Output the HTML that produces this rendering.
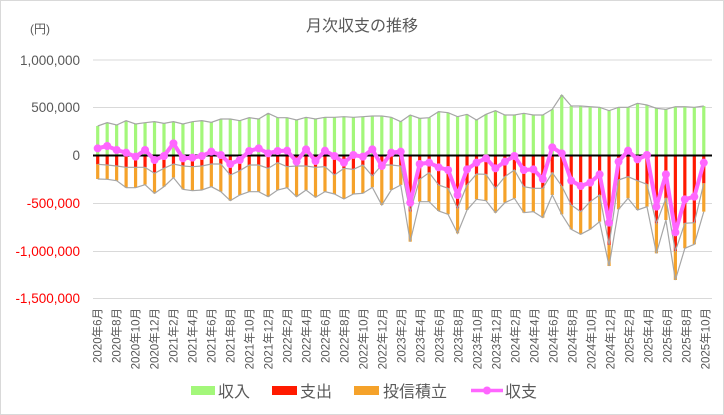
<!DOCTYPE html>
<html><head><meta charset="utf-8"><style>
html,body{margin:0;padding:0;background:#fff}
svg{display:block}
text{font-family:"Liberation Sans","Noto Sans CJK JP",sans-serif}
</style></head><body>
<svg id="c" width="724" height="415" xmlns="http://www.w3.org/2000/svg">
<rect x="0.5" y="0.5" width="723" height="414" fill="#fff" stroke="#d9d9d9"/>
<text x="362" y="31" font-size="16" fill="#595959" text-anchor="middle">月次収支の推移</text>
<text x="30" y="33" font-size="12" fill="#595959">(円)</text>
<g font-size="13.5" text-anchor="end">
<text x="80" y="65" fill="#595959">1,000,000</text>
<text x="80" y="112" fill="#595959">500,000</text>
<text x="80" y="160" fill="#595959">0</text>
<text x="80" y="208" fill="#ff0000">-500,000</text>
<text x="80" y="256" fill="#ff0000">-1,000,000</text>
<text x="80" y="303" fill="#ff0000">-1,500,000</text>
</g>
<g stroke="#d9d9d9" stroke-width="1">
<line x1="93" x2="712" y1="60" y2="60"/>
<line x1="93" x2="712" y1="107.5" y2="107.5"/>
<line x1="93" x2="712" y1="203.5" y2="203.5"/>
<line x1="93" x2="712" y1="251.5" y2="251.5"/>
<line x1="93" x2="712" y1="298.5" y2="298.5"/>
</g>
<g id="bars"></g>
<line x1="93" x2="712" y1="155.5" y2="155.5" stroke="#000" stroke-width="2"/>
<g id="net"></g>
<g font-size="11.5" fill="#595959" text-anchor="end">
<text transform="translate(101.5,308) rotate(-90)">2020年6月</text>
<text transform="translate(120.5,308) rotate(-90)">2020年8月</text>
<text transform="translate(139.5,308) rotate(-90)">2020年10月</text>
<text transform="translate(158.5,308) rotate(-90)">2020年12月</text>
<text transform="translate(177.5,308) rotate(-90)">2021年2月</text>
<text transform="translate(196.5,308) rotate(-90)">2021年4月</text>
<text transform="translate(215.5,308) rotate(-90)">2021年6月</text>
<text transform="translate(234.5,308) rotate(-90)">2021年8月</text>
<text transform="translate(253.5,308) rotate(-90)">2021年10月</text>
<text transform="translate(272.5,308) rotate(-90)">2021年12月</text>
<text transform="translate(291.5,308) rotate(-90)">2022年2月</text>
<text transform="translate(310.5,308) rotate(-90)">2022年4月</text>
<text transform="translate(329.5,308) rotate(-90)">2022年6月</text>
<text transform="translate(348.5,308) rotate(-90)">2022年8月</text>
<text transform="translate(367.5,308) rotate(-90)">2022年10月</text>
<text transform="translate(386.5,308) rotate(-90)">2022年12月</text>
<text transform="translate(405.5,308) rotate(-90)">2023年2月</text>
<text transform="translate(424.5,308) rotate(-90)">2023年4月</text>
<text transform="translate(443.5,308) rotate(-90)">2023年6月</text>
<text transform="translate(462.5,308) rotate(-90)">2023年8月</text>
<text transform="translate(481.5,308) rotate(-90)">2023年10月</text>
<text transform="translate(500.5,308) rotate(-90)">2023年12月</text>
<text transform="translate(519.5,308) rotate(-90)">2024年2月</text>
<text transform="translate(538.5,308) rotate(-90)">2024年4月</text>
<text transform="translate(557.5,308) rotate(-90)">2024年6月</text>
<text transform="translate(576.5,308) rotate(-90)">2024年8月</text>
<text transform="translate(595.5,308) rotate(-90)">2024年10月</text>
<text transform="translate(614.5,308) rotate(-90)">2024年12月</text>
<text transform="translate(633.5,308) rotate(-90)">2025年2月</text>
<text transform="translate(652.5,308) rotate(-90)">2025年4月</text>
<text transform="translate(671.5,308) rotate(-90)">2025年6月</text>
<text transform="translate(690.5,308) rotate(-90)">2025年8月</text>
<text transform="translate(709.5,308) rotate(-90)">2025年10月</text>
</g>
<g font-size="16" fill="#595959">
<rect x="191" y="386" width="24" height="9" fill="#a3f77a"/>
<text x="218" y="397">収入</text>
<rect x="272" y="386" width="25" height="9" fill="#ff1a00"/>
<text x="300" y="397">支出</text>
<rect x="354" y="386" width="25" height="9" fill="#f5a22a"/>
<text x="383" y="397">投信積立</text>
<line x1="471" x2="503" y1="390.5" y2="390.5" stroke="#ff66ff" stroke-width="3.5"/>
<circle cx="487" cy="390.5" r="4" fill="#ff66ff"/>
<text x="505" y="397">収支</text>
</g>
</svg>
<script>
var inc=[138,128,135,122,132,128,125,130,125,132,125,122,127,117,117,122,113,117,100,113,113,120,112,117,112,112,110,112,110,108,108,112,125,105,115,113,95,98,110,103,120,103,92,105,105,100,105,105,88,45,78,78,80,82,92,82,82,70,75,85,88,80,80,82,78];
var red=[253,255,258,262,262,262,280,265,252,258,260,258,252,252,285,272,255,255,265,248,260,258,258,262,260,285,265,268,255,288,255,255,258,395,298,278,315,325,385,315,282,283,325,290,270,320,325,325,278,318,375,395,365,345,495,300,290,302,313,430,355,513,430,428,310];
var ora=[297,298,302,323,323,314,340,320,293,328,332,330,320,335,362,345,335,335,350,330,323,350,330,352,335,342,357,342,340,322,375,330,315,485,365,365,393,403,460,390,358,362,398,368,355,398,395,413,345,403,448,463,448,425,558,388,355,390,380,520,420,600,505,493,395];
var net=[205,198,210,218,230,210,240,228,190,235,233,228,215,225,252,240,213,205,220,213,212,245,208,243,212,228,248,225,230,208,258,218,215,368,252,248,262,270,345,268,248,235,265,245,228,270,268,297,202,220,302,318,308,283,428,245,212,238,225,380,283,457,358,350,248];
function Y(p){return 80+p/3}
var z=155.5,s='',g1='',g2='',g3='',n='',N='';
for(var i=0;i<65;i++){
 var x=97.7+9.47*i, a=Y(inc[i]), b=Y(red[i]), c=Y(ora[i]);
 s+='<rect x="'+(x-1.6)+'" y="'+a+'" width="3.2" height="'+(z-a)+'" fill="#a3f77a"/>';
 s+='<rect x="'+(x-1.6)+'" y="'+z+'" width="3.2" height="'+(b-z)+'" fill="#ff1a00"/>';
 s+='<rect x="'+(x-1.6)+'" y="'+b+'" width="3.2" height="'+(c-b)+'" fill="#f5a22a"/>';
 g1+=(i?' L':'M')+x+' '+a; g2+=(i?' L':'M')+x+' '+b; g3+=(i?' L':'M')+x+' '+c;
 n+=(i?' L':'M')+x+' '+Y(net[i]);
 N+='<circle cx="'+x+'" cy="'+Y(net[i])+'" r="4" fill="#ff66ff"/>';
}
s+='<path d="'+g1+'" fill="none" stroke="#a6a6a6" stroke-width="1.2"/>';
s+='<path d="'+g2+'" fill="none" stroke="#a6a6a6" stroke-width="1.2"/>';
s+='<path d="'+g3+'" fill="none" stroke="#a6a6a6" stroke-width="1.2"/>';
document.getElementById('bars').innerHTML=s;
document.getElementById('net').innerHTML='<path d="'+n+'" fill="none" stroke="#ff66ff" stroke-width="4" stroke-linejoin="round"/>'+N;
</script>
</body></html>
